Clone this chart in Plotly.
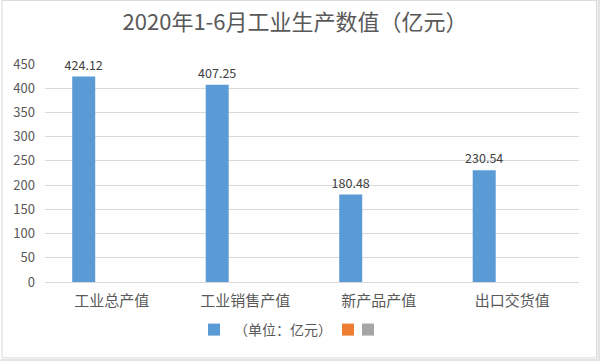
import plotly.graph_objects as go

categories = ["工业总产值", "工业销售产值", "新产品产值", "出口交货值"]
values = [424.12, 407.25, 180.48, 230.54]
value_labels = ["424.12", "407.25", "180.48", "230.54"]
series2 = [0, 0, 0, 0]
series3 = [0, 0, 0, 0]
y_ticks = [0, 50, 100, 150, 200, 250, 300, 350, 400, 450]
title_text = "2020年1-6月工业生产数值（亿元）"
legend_name = "（单位：亿元）"

W, H = 600, 361
ml, mr, mt, mb = 44.5, 21, 64, 79.3
pw = W - ml - mr
ph = H - mt - mb

FONT = "Noto Sans CJK SC, Microsoft YaHei, sans-serif"

fig = go.Figure()
fig.add_trace(go.Bar(
    x=categories, y=values, name=legend_name, legend="legend",
    marker=dict(color="#5B9BD5", line=dict(width=0)),
    text=value_labels, textposition="outside", cliponaxis=False,
    constraintext="none",
    textfont=dict(size=12.5, color="#404040", family=FONT),
))
fig.add_trace(go.Bar(x=categories, y=series2, name="", legend="legend2",
                     marker=dict(color="#ED7D31", line=dict(width=0)),
                     hoverinfo="skip"))
fig.add_trace(go.Bar(x=categories, y=series3, name="", legend="legend3",
                     marker=dict(color="#A5A5A5", line=dict(width=0)),
                     hoverinfo="skip"))

def px_x(p):
    return (p - ml) / pw

def px_y(p):
    return 1 - (p - mt) / ph

def leg(xpix):
    return dict(orientation="h", x=xpix / W, xanchor="left", xref="container",
                y=1 - 330 / H, yref="container", yanchor="middle",
                font=dict(size=14, color="#595959", family=FONT),
                itemwidth=30, bgcolor="rgba(0,0,0,0)", borderwidth=0)

fig.update_layout(
    width=W, height=H,
    margin=dict(l=ml, r=mr, t=mt, b=mb, autoexpand=False),
    paper_bgcolor="white", plot_bgcolor="white",
    font=dict(family=FONT, color="#595959"),
    title=dict(text=title_text, x=295 / W, xref="container", xanchor="center",
               y=1 - 22 / H, yanchor="middle",
               font=dict(size=22, color="#595959", family=FONT)),
    barmode="group", bargap=0.37, bargroupgap=0.18,
    showlegend=True,
    legend=leg(194),
    legend2=leg(328),
    legend3=leg(348),
    xaxis=dict(showgrid=False, showline=True, linecolor="#D9D9D9", linewidth=1,
               ticks="", tickfont=dict(size=15, color="#595959", family=FONT),
               ticklabelstandoff=5),
    yaxis=dict(range=[0, 450], tickvals=y_ticks, showgrid=True,
               gridcolor="#D9D9D9", gridwidth=1, zeroline=False,
               showline=False, ticks="",
               tickfont=dict(size=13, color="#595959", family=FONT),
               ticklabelstandoff=9),
    shapes=[
        dict(type="rect", xref="paper", yref="paper",
             x0=px_x(1.5), x1=px_x(596.5), y0=px_y(357.5), y1=px_y(0.5),
             line=dict(color="#D9D9D9", width=1), fillcolor="rgba(0,0,0,0)",
             layer="below"),
        dict(type="rect", xref="paper", yref="paper",
             x0=px_x(0), x1=px_x(600), y0=px_y(361), y1=px_y(358.5),
             line=dict(width=0), fillcolor="#E3E3E3", layer="below"),
        dict(type="rect", xref="paper", yref="paper",
             x0=px_x(597.5), x1=px_x(600), y0=px_y(361), y1=px_y(0),
             line=dict(width=0), fillcolor="#E3E3E3", layer="below"),
    ],
)

fig.write_html(
    "out.html",
    config={"displayModeBar": False},
    post_script="document.body.style.margin='0';document.body.style.overflow='hidden';",
)
